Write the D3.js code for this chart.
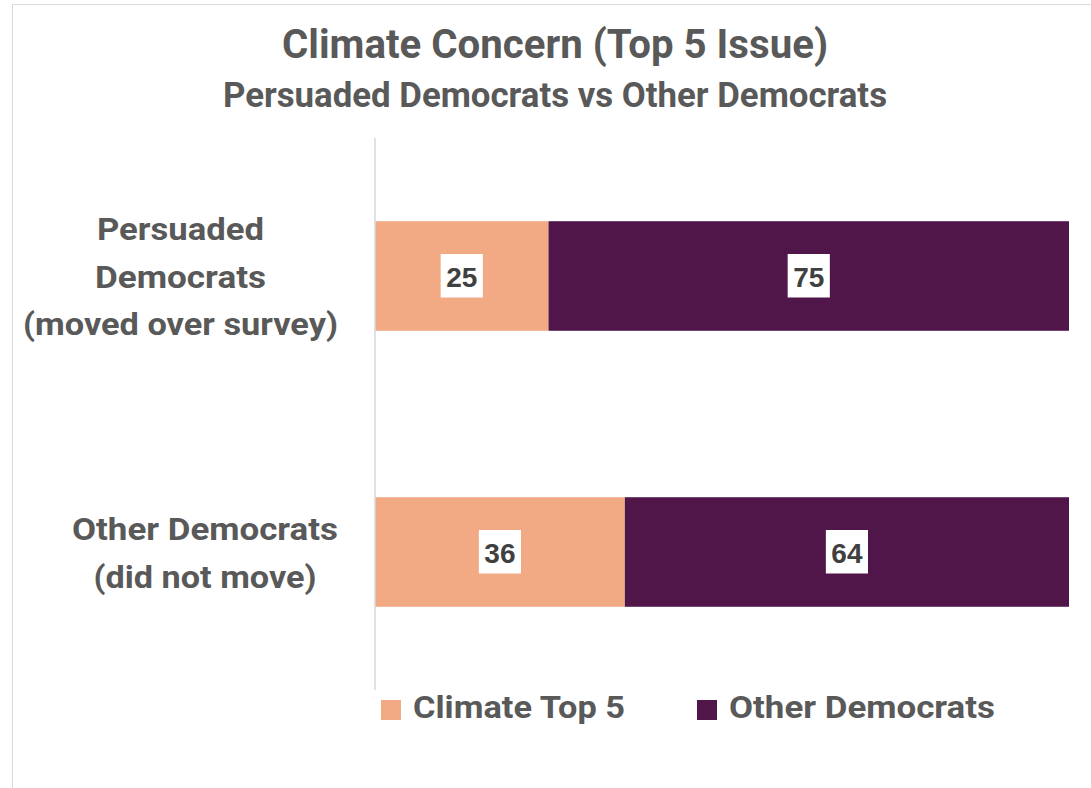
<!DOCTYPE html>
<html>
<head>
<meta charset="utf-8">
<script src="https://cdn.jsdelivr.net/npm/d3@7"></script>
<style>
  html, body { margin: 0; padding: 0; background: #fff; }
  svg { display: block; }
</style>
</head>
<body>
<svg id="chart" width="1091" height="788"></svg>
<script>
// ---- data ----
const categories = ["Persuaded Democrats (moved over survey)", "Other Democrats (did not move)"];
const categoryLines = [["Persuaded", "Democrats", "(moved over survey)"], ["Other Democrats", "(did not move)"]];
const seriesNames = ["Climate Top 5", "Other Democrats"];
const climateTop5 = [25, 36];
const otherDemocrats = [75, 64];
const titleText = "Climate Concern (Top 5 Issue)";
const subtitleText = "Persuaded Democrats vs Other Democrats";

// ---- layout / style ----
const colors = ["#F1AA84", "#501549"];
const textColor = "#595959";
const fontFam = "Roboto, 'Liberation Sans', sans-serif";
const plot = { left: 375, right: 1069, top: 138, bottom: 690 };
// target widths to mimic reference font metrics
const fitW = {
  "Climate Concern (Top 5 Issue)": 546,
  "Persuaded Democrats vs Other Democrats": 664,
  "Persuaded": 167, "Democrats": 171, "(moved over survey)": 315,
  "Other Democrats": 266, "(did not move)": 223,
  "Climate Top 5": 212
};

const svg = d3.select("#chart");

// chart border
svg.append("rect").attr("x", 12.5).attr("y", 4.5).attr("width", 1200).attr("height", 900)
  .attr("fill", "#fff").attr("stroke", "#D9D9D9").attr("stroke-width", 1);

function fit(sel, key) {
  if (fitW[key]) sel.attr("textLength", fitW[key]).attr("lengthAdjust", "spacingAndGlyphs");
  return sel;
}

// titles
fit(svg.append("text").attr("x", 555).attr("y", 58).attr("text-anchor", "middle")
  .attr("font-family", fontFam).attr("font-weight", 700).attr("font-size", 40)
  .attr("fill", textColor).text(titleText), titleText);
fit(svg.append("text").attr("x", 555).attr("y", 107).attr("text-anchor", "middle")
  .attr("font-family", fontFam).attr("font-weight", 700).attr("font-size", 35)
  .attr("fill", textColor).text(subtitleText), subtitleText);

// scales
const x = d3.scaleLinear().domain([0, 100]).range([plot.left, plot.right]);
const y = d3.scaleBand().domain(categories).range([plot.top, plot.bottom])
  .paddingInner(0.603).paddingOuter(0.3015);

// stacked data
const rows = categories.map((c, i) => ({ cat: c, "Climate Top 5": climateTop5[i], "Other Democrats": otherDemocrats[i] }));
const stack = d3.stack().keys(seriesNames)(rows);

const g = svg.append("g");
stack.forEach((layer, li) => {
  g.selectAll(null).data(layer).enter().append("rect")
    .attr("x", d => x(d[0]))
    .attr("y", d => y(d.data.cat))
    .attr("width", d => x(d[1]) - x(d[0]))
    .attr("height", y.bandwidth())
    .attr("fill", colors[li]);
});

// axis line (category axis)
const yAxis = d3.axisLeft(y).tickSize(0).tickFormat("");
const ax = svg.append("g").attr("transform", `translate(${plot.left},0)`).call(yAxis);
ax.select(".domain").attr("stroke", "#D9D9D9").attr("stroke-width", 1.5)
  .attr("d", `M0,${plot.top}V${plot.bottom}`);

// category labels
const lineH = 47.5;
categoryLines.forEach((lines, i) => {
  const cy = y(categories[i]) + y.bandwidth() / 2;
  const maxW = d3.max(lines, l => fitW[l]);
  const cx = 338 - maxW / 2;
  const n = lines.length;
  lines.forEach((l, j) => {
    const base = cy + 11.8 + (j - (n - 1) / 2) * lineH;
    fit(svg.append("text").attr("x", cx).attr("y", base).attr("text-anchor", "middle")
      .attr("font-family", fontFam).attr("font-weight", 700).attr("font-size", 32)
      .attr("fill", textColor).text(l), l);
  });
});

// data labels
stack.forEach((layer, li) => {
  layer.forEach(d => {
    const cx = (x(d[0]) + x(d[1])) / 2;
    const cy = y(d.data.cat) + y.bandwidth() / 2;
    const val = d[1] - d[0];
    const t = svg.append("text").attr("x", cx).attr("y", cy + 10.5).attr("text-anchor", "middle")
      .attr("font-family", "'Liberation Sans', Arial, sans-serif").attr("font-weight", 700)
      .attr("font-size", 28).attr("fill", "#404040").text(val);
    const w = t.node().getComputedTextLength();
    svg.insert("rect", () => t.node())
      .attr("x", cx - w / 2 - 5.5).attr("y", cy - 22)
      .attr("width", w + 11).attr("height", 43.5).attr("fill", "#fff");
  });
});

// legend
const legendItems = [{ name: seriesNames[0], sx: 381, tx: 413 }, { name: seriesNames[1], sx: 697, tx: 729 }];
legendItems.forEach((it, i) => {
  svg.append("rect").attr("x", it.sx).attr("y", 700).attr("width", 20).attr("height", 20).attr("fill", colors[i]);
  fit(svg.append("text").attr("x", it.tx).attr("y", 717.7)
    .attr("font-family", fontFam).attr("font-weight", 700).attr("font-size", 32)
    .attr("fill", textColor).text(it.name), it.name);
});
</script>
</body>
</html>
